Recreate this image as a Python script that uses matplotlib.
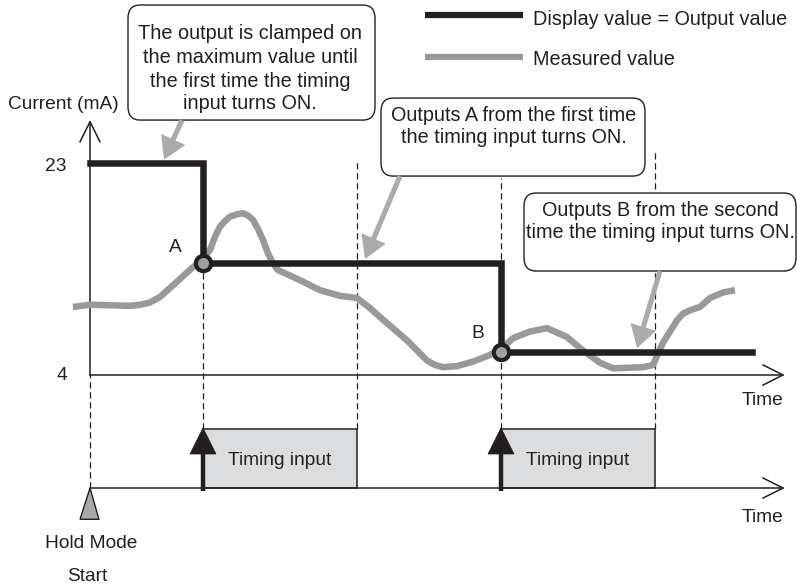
import numpy as np
import matplotlib.pyplot as plt
from matplotlib.patches import FancyBboxPatch, Rectangle, Polygon

plt.rcParams["font.family"] = ["Liberation Sans", "DejaVu Sans"]
plt.rcParams["font.size"] = 13.8

# -------------------------
# Data (time in arbitrary units, current in mA)
# -------------------------
meas_t = [-1.7, 0.0, 4.0, 5.0, 6.0, 7.0, 8.5, 10.2, 11.0, 12.0, 12.5, 13.0, 13.5,
          14.0, 14.7, 15.3, 15.8, 16.3, 16.8, 17.3, 17.8, 18.3, 18.8, 19.3, 21.0,
          23.0, 25.0, 26.7, 28.0, 29.0, 31.7, 33.7, 34.5, 35.3, 36.7, 38.3, 40.0,
          41.2, 42.3, 44.0, 45.7, 47.7, 49.3, 51.0, 52.3, 55.3, 56.3, 57.3, 58.7,
          59.3, 60.0, 61.0, 62.0, 63.3, 64.5]
meas_v = [10.1, 10.3, 10.2, 10.3, 10.5, 11.0, 12.2, 13.6, 14.1, 15.2, 16.4, 17.3, 17.8,
          18.2, 18.4, 18.5, 18.3, 17.9, 17.1, 16.1, 14.9, 14.0, 13.4, 13.2, 12.5,
          11.6, 11.1, 10.9, 10.0, 9.2, 7.1, 5.3, 4.9, 4.7, 4.8, 5.2, 5.8,
          6.4, 7.3, 7.9, 8.2, 7.4, 6.2, 5.1, 4.6, 4.7, 4.9, 6.9, 8.9,
          9.5, 9.8, 10.1, 10.9, 11.4, 11.6]

out_t = [0.0, 11.3, 41.1, 66.2]
out_v = [23.0, 14.0, 6.1, 6.1]

on_t = [11.3, 41.1]
off_t = [26.7, 56.5]
point_labels = ["A", "B"]

tick_vals = [23, 4]

callout_texts = [
    ["The output is clamped on", "the maximum value until",
     "the first time the timing", "input turns ON."],
    ["Outputs A from the first time", "the timing input turns ON."],
    ["Outputs B from the second", "time the timing input turns ON."],
]

BLACK = "#231f20"
GRAY = "#999999"
ARROW_GRAY = "#ababab"
BOX_GRAY = "#dcdddf"
BIG = 14.3

LOW = -6.13    # timing chart baseline
HIGH = -0.84   # timing input ON level
T_END = 69.3   # end of time axes
V_TOP = 26.7   # top of current axis

fig = plt.figure(figsize=(7.97, 5.85), dpi=100)
ax = fig.add_axes([0, 0, 1, 1])
ax.set_xlim(-9.0, 70.7)
ax.set_ylim(-14.82, 37.61)
ax.axis("off")

# -------------------------
# Axes lines
# -------------------------
ax.plot([0, 0], [4, V_TOP], color=BLACK, lw=1.1, zorder=3)
ax.plot([-1.0, 0, 1.0], [V_TOP - 1.8, V_TOP, V_TOP - 1.8], color=BLACK, lw=1.1, zorder=3)
for base in [4, LOW]:
    ax.plot([0, T_END], [base, base], color=BLACK, lw=1.1, zorder=3)
    ax.plot([T_END - 2.0, T_END, T_END - 2.0], [base + 0.9, base, base - 0.9],
            color=BLACK, lw=1.1, zorder=3)

ax.text(67.3, 1.31, "Time", ha="center", va="baseline", color=BLACK)
ax.text(67.3, -9.17, "Time", ha="center", va="baseline", color=BLACK)
ax.text(-2.7, 27.84, "Current (mA)", ha="center", va="baseline", color=BLACK)
ax.text(-3.4, tick_vals[0] - 0.72, str(tick_vals[0]), ha="center", va="baseline", color=BLACK)
ax.text(-2.8, tick_vals[1] - 0.45, str(tick_vals[1]), ha="center", va="baseline", color=BLACK)

# -------------------------
# Dashed guide lines
# -------------------------
dash = dict(color=BLACK, lw=0.9, linestyle=(0, (5, 3)), zorder=1)
ax.plot([0, 0], [LOW, 4], **dash)
dash_top = [out_v[1], 23.2, 21.7, 24.2]
for t, top in zip([on_t[0], off_t[0], on_t[1], off_t[1]], dash_top):
    ax.plot([t, t], [HIGH, top], **dash)

# -------------------------
# Measured value and output
# -------------------------
ax.plot(meas_t, meas_v, color=GRAY, lw=4.7, solid_joinstyle="round",
        solid_capstyle="butt", zorder=4)
ax.step(out_t, out_v, where="post", color=BLACK, lw=4.7,
        solid_joinstyle="miter", zorder=5)
held_v = out_v[1:3]
ax.plot(on_t, held_v, "o", ms=11, mfc="#a0a0a0", mec=BLACK, mew=3, zorder=6)
for t, v, lab, off in zip(on_t, held_v, point_labels, [(-20, 8), (-17, 10)]):
    ax.annotate(lab, (t, v), xytext=off, textcoords="offset points",
                ha="center", va="baseline", color=BLACK)

# -------------------------
# Timing input pulses
# -------------------------
for t0, t1 in zip(on_t, off_t):
    ax.add_patch(Rectangle((t0, LOW), t1 - t0, HIGH - LOW, fc=BOX_GRAY,
                           ec=BLACK, lw=1.1, zorder=2))
    ax.text((t0 + t1) / 2, -4.07, "Timing input", ha="center", va="baseline",
            color=BLACK, zorder=3)
    ax.plot([t0, t0], [LOW - 0.3, HIGH - 2.0], color=BLACK, lw=3.2,
            solid_capstyle="butt", zorder=4)
    ax.add_patch(Polygon([(t0 - 1.3, HIGH - 2.24), (t0 + 1.3, HIGH - 2.24), (t0, HIGH + 0.1)],
                         closed=True, fc=BLACK, ec=BLACK, lw=0.5, zorder=4))

# Hold mode start marker
ax.add_patch(Polygon([(-1.0, LOW - 2.8), (0.9, LOW - 2.8), (0, LOW)], closed=True,
                     fc="#a7a9ac", ec=BLACK, lw=1.0, zorder=4))
ax.text(0.1, -11.5, "Hold Mode", ha="center", va="baseline", color=BLACK)
ax.text(-0.3, -14.46, "Start", ha="center", va="baseline", color=BLACK)

# -------------------------
# Callouts
# -------------------------
boxes = [(3.8, 26.85, 24.7, 10.31), (29.1, 21.83, 26.4, 6.99), (43.4, 13.32, 27.2, 6.99)]
text_x = [16.0, 42.4, 57.0]
text_base = [[34.11, 31.96, 29.81, 27.84], [26.76, 24.79], [18.25, 16.28]]
arrows = [((9.2, 26.85), (7.4, 23.3)), ((31.0, 21.83), (27.5, 14.4)),
          ((57.0, 13.32), (54.7, 6.4))]

for (x, y, w, h), tx, bases, lines, (start, tip) in zip(
        boxes, text_x, text_base, callout_texts, arrows):
    ax.add_patch(FancyBboxPatch((x, y), w, h, boxstyle="round,pad=0,rounding_size=1.2",
                                fc="white", ec=BLACK, lw=1.0, zorder=7))
    for line, b in zip(lines, bases):
        ax.text(tx, b, line, ha="center", va="baseline", color=BLACK,
                fontsize=BIG, zorder=8)
    ax.annotate("", xy=tip, xytext=start,
                arrowprops=dict(arrowstyle="simple,head_length=1.0,head_width=1.2,tail_width=0.23",
                                fc=ARROW_GRAY, ec="none", mutation_scale=16,
                                shrinkA=0, shrinkB=0),
                zorder=7)

# -------------------------
# Legend
# -------------------------
ax.plot([33.5, 43.3], [36.26, 36.26], color=BLACK, lw=4.5, solid_capstyle="butt")
ax.plot([33.5, 43.3], [32.5, 32.5], color=GRAY, lw=4.5, solid_capstyle="butt")
ax.text(44.3, 35.37, "Display value = Output value", ha="left", va="baseline",
        color=BLACK, fontsize=BIG)
ax.text(44.3, 31.78, "Measured value", ha="left", va="baseline",
        color=BLACK, fontsize=BIG)

fig.savefig("out.png", dpi=100)
